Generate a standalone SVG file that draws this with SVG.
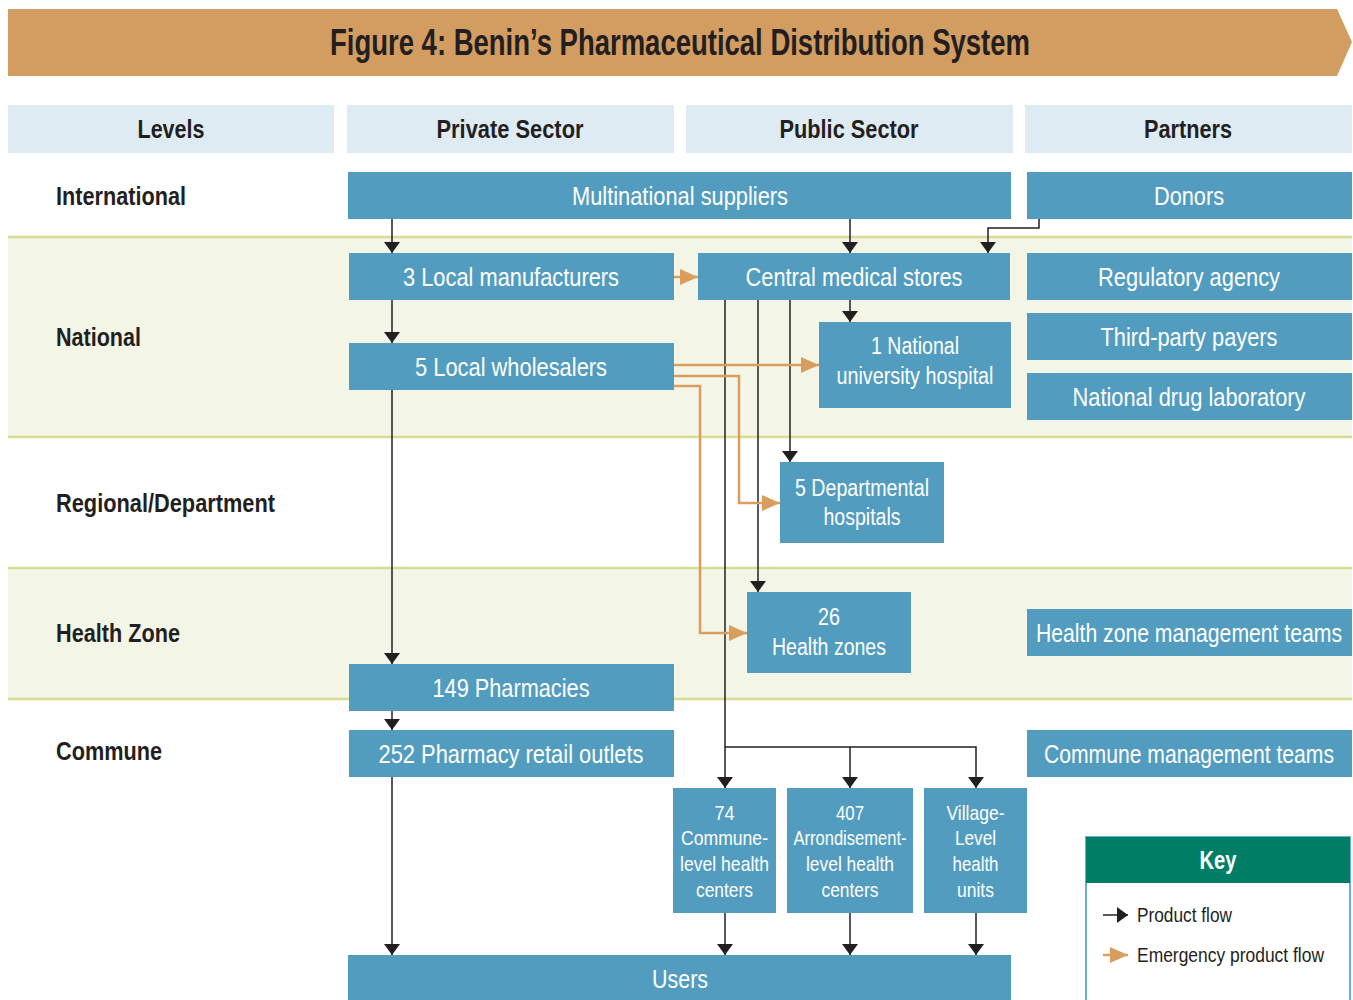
<svg xmlns="http://www.w3.org/2000/svg" width="1353" height="1000" viewBox="0 0 1353 1000">
<style>
text{font-family:"Liberation Sans",Arial,sans-serif;}
.t{font-size:37px;font-weight:bold;fill:#231f20;text-anchor:middle;}
.h{font-size:25px;font-weight:bold;fill:#231f20;text-anchor:middle;}
.lv{font-size:25px;font-weight:bold;fill:#231f20;}
.n{fill:#529dbf;}
.nt{font-size:26px;fill:#fff;text-anchor:middle;}
.ns{font-size:23px;fill:#fff;text-anchor:middle;}
.nb{font-size:21px;fill:#fff;text-anchor:middle;}
.hd{fill:#deebf3;}
.band{fill:#f3f6e6;}
.bl{stroke:#d6de93;stroke-width:2.5;}
.pf{fill:none;stroke:#231f20;stroke-width:1.5;}
.ef{fill:none;stroke:#d99e5e;stroke-width:2.5;}
.k{font-size:21px;fill:#231f20;}
</style>
<defs>
<marker id="ab" markerUnits="userSpaceOnUse" markerWidth="11" markerHeight="16" viewBox="0 0 11 16" refX="11" refY="8" orient="auto">
<path d="M0,0 L11,8 L0,16 z" fill="#231f20"/>
</marker>
<marker id="ao" markerUnits="userSpaceOnUse" markerWidth="18" markerHeight="16" viewBox="0 0 18 16" refX="18" refY="8" orient="auto">
<path d="M0,0 L18,8 L0,16 z" fill="#d99e5e"/>
</marker>
</defs>
<rect width="1353" height="1000" fill="#fff"/>
<g id="title">
<path d="M8,9 L1337,9 L1352,42 L1337,76 L8,76 z" fill="#d39c60"/>
<text class="t" x="680" y="55" textLength="700" lengthAdjust="spacingAndGlyphs">Figure 4: Benin’s Pharmaceutical Distribution System</text>
</g>
<g id="headers">
<rect class="hd" x="8" y="105" width="326" height="48"/>
<rect class="hd" x="347" y="105" width="327" height="48"/>
<rect class="hd" x="686" y="105" width="327" height="48"/>
<rect class="hd" x="1025" y="105" width="327" height="48"/>
<text class="h" x="171" y="138" textLength="67" lengthAdjust="spacingAndGlyphs">Levels</text>
<text class="h" x="510" y="138" textLength="147" lengthAdjust="spacingAndGlyphs">Private Sector</text>
<text class="h" x="849" y="138" textLength="139" lengthAdjust="spacingAndGlyphs">Public Sector</text>
<text class="h" x="1188" y="138" textLength="88" lengthAdjust="spacingAndGlyphs">Partners</text>
</g>
<g id="bands">
<rect class="band" x="8" y="237" width="1344" height="200"/>
<rect class="band" x="8" y="568" width="1344" height="131"/>
<line class="bl" x1="8" y1="237" x2="1352" y2="237"/>
<line class="bl" x1="8" y1="437" x2="1352" y2="437"/>
<line class="bl" x1="8" y1="568" x2="1352" y2="568"/>
<line class="bl" x1="8" y1="699" x2="1352" y2="699"/>
</g>
<g id="levels">
<text class="lv" x="56" y="205" textLength="130" lengthAdjust="spacingAndGlyphs">International</text>
<text class="lv" x="56" y="346" textLength="85" lengthAdjust="spacingAndGlyphs">National</text>
<text class="lv" x="56" y="512" textLength="219" lengthAdjust="spacingAndGlyphs">Regional/Department</text>
<text class="lv" x="56" y="642" textLength="124" lengthAdjust="spacingAndGlyphs">Health Zone</text>
<text class="lv" x="56" y="760" textLength="106" lengthAdjust="spacingAndGlyphs">Commune</text>
</g>
<g id="connectors">
<path class="pf" d="M392,219 V253" marker-end="url(#ab)"/>
<path class="pf" d="M850,219 V253" marker-end="url(#ab)"/>
<path class="pf" d="M1039,219 V228 H988 V253" marker-end="url(#ab)"/>
<path class="pf" d="M392,300 V343" marker-end="url(#ab)"/>
<path class="pf" d="M850,300 V322" marker-end="url(#ab)"/>
<path class="pf" d="M790,300 V462" marker-end="url(#ab)"/>
<path class="pf" d="M758,300 V592" marker-end="url(#ab)"/>
<path class="pf" d="M725,300 V788" marker-end="url(#ab)"/>
<path class="pf" d="M725,747 H976 V788" marker-end="url(#ab)"/>
<path class="pf" d="M850,747 V788" marker-end="url(#ab)"/>
<path class="pf" d="M392,390 V664" marker-end="url(#ab)"/>
<path class="pf" d="M392,711 V730" marker-end="url(#ab)"/>
<path class="pf" d="M392,777 V955" marker-end="url(#ab)"/>
<path class="pf" d="M725,913 V955" marker-end="url(#ab)"/>
<path class="pf" d="M850,913 V955" marker-end="url(#ab)"/>
<path class="pf" d="M976,913 V955" marker-end="url(#ab)"/>
<path class="ef" d="M674,277 H698" marker-end="url(#ao)"/>
<path class="ef" d="M674,365 H819" marker-end="url(#ao)"/>
<path class="ef" d="M674,376 H739 V503 H780" marker-end="url(#ao)"/>
<path class="ef" d="M674,386 H700 V633 H747" marker-end="url(#ao)"/>
</g>
<g id="multinational">
<rect class="n" x="348" y="172" width="663" height="47"/>
<text class="nt" x="680" y="205" textLength="216" lengthAdjust="spacingAndGlyphs">Multinational suppliers</text>
</g>
<g id="donors">
<rect class="n" x="1027" y="172" width="325" height="47"/>
<text class="nt" x="1189" y="205" textLength="70" lengthAdjust="spacingAndGlyphs">Donors</text>
</g>
<g id="manufacturers">
<rect class="n" x="349" y="253" width="325" height="47"/>
<text class="nt" x="511" y="286" textLength="216" lengthAdjust="spacingAndGlyphs">3 Local manufacturers</text>
</g>
<g id="cms">
<rect class="n" x="698" y="253" width="312" height="47"/>
<text class="nt" x="854" y="286" textLength="217" lengthAdjust="spacingAndGlyphs">Central medical stores</text>
</g>
<g id="regulatory">
<rect class="n" x="1027" y="253" width="325" height="47"/>
<text class="nt" x="1189" y="286" textLength="182" lengthAdjust="spacingAndGlyphs">Regulatory agency</text>
</g>
<g id="thirdparty">
<rect class="n" x="1027" y="313" width="325" height="47"/>
<text class="nt" x="1189" y="346" textLength="177" lengthAdjust="spacingAndGlyphs">Third-party payers</text>
</g>
<g id="drulab">
<rect class="n" x="1027" y="373" width="325" height="47"/>
<text class="nt" x="1189" y="406" textLength="233" lengthAdjust="spacingAndGlyphs">National drug laboratory</text>
</g>
<g id="wholesalers">
<rect class="n" x="349" y="343" width="325" height="47"/>
<text class="nt" x="511" y="376" textLength="192" lengthAdjust="spacingAndGlyphs">5 Local wholesalers</text>
</g>
<g id="nuh">
<rect class="n" x="819" y="322" width="192" height="86"/>
<text class="ns" x="915" y="354" textLength="88" lengthAdjust="spacingAndGlyphs">1 National</text>
<text class="ns" x="915" y="384" textLength="157" lengthAdjust="spacingAndGlyphs">university hospital</text>
</g>
<g id="departmental">
<rect class="n" x="780" y="462" width="164" height="81"/>
<text class="ns" x="862" y="496" textLength="134" lengthAdjust="spacingAndGlyphs">5 Departmental</text>
<text class="ns" x="862" y="525" textLength="77" lengthAdjust="spacingAndGlyphs">hospitals</text>
</g>
<g id="healthzones">
<rect class="n" x="747" y="592" width="164" height="81"/>
<text class="ns" x="829" y="625" textLength="22" lengthAdjust="spacingAndGlyphs">26</text>
<text class="ns" x="829" y="655" textLength="114" lengthAdjust="spacingAndGlyphs">Health zones</text>
</g>
<g id="hzteams">
<rect class="n" x="1027" y="609" width="325" height="47"/>
<text class="nt" x="1189" y="642" textLength="306" lengthAdjust="spacingAndGlyphs">Health zone management teams</text>
</g>
<g id="pharmacies">
<rect class="n" x="349" y="664" width="325" height="47"/>
<text class="nt" x="511" y="697" textLength="157" lengthAdjust="spacingAndGlyphs">149 Pharmacies</text>
</g>
<g id="outlets">
<rect class="n" x="349" y="730" width="325" height="47"/>
<text class="nt" x="511" y="763" textLength="265" lengthAdjust="spacingAndGlyphs">252 Pharmacy retail outlets</text>
</g>
<g id="communeteams">
<rect class="n" x="1027" y="730" width="325" height="47"/>
<text class="nt" x="1189" y="763" textLength="290" lengthAdjust="spacingAndGlyphs">Commune management teams</text>
</g>
<g id="communecenters">
<rect class="n" x="673" y="788" width="103" height="125"/>
<text class="nb" x="724.5" y="820" textLength="20" lengthAdjust="spacingAndGlyphs">74</text>
<text class="nb" x="724.5" y="845" textLength="87" lengthAdjust="spacingAndGlyphs">Commune-</text>
<text class="nb" x="724.5" y="871" textLength="89" lengthAdjust="spacingAndGlyphs">level health</text>
<text class="nb" x="724.5" y="897" textLength="57" lengthAdjust="spacingAndGlyphs">centers</text>
</g>
<g id="arrcenters">
<rect class="n" x="787" y="788" width="126" height="125"/>
<text class="nb" x="850" y="820" textLength="28" lengthAdjust="spacingAndGlyphs">407</text>
<text class="nb" x="850" y="845" textLength="113" lengthAdjust="spacingAndGlyphs">Arrondisement-</text>
<text class="nb" x="850" y="871" textLength="88" lengthAdjust="spacingAndGlyphs">level health</text>
<text class="nb" x="850" y="897" textLength="57" lengthAdjust="spacingAndGlyphs">centers</text>
</g>
<g id="villageunits">
<rect class="n" x="924" y="788" width="103" height="125"/>
<text class="nb" x="975.5" y="820" textLength="58" lengthAdjust="spacingAndGlyphs">Village-</text>
<text class="nb" x="975.5" y="845" textLength="41" lengthAdjust="spacingAndGlyphs">Level</text>
<text class="nb" x="975.5" y="871" textLength="46" lengthAdjust="spacingAndGlyphs">health</text>
<text class="nb" x="975.5" y="897" textLength="37" lengthAdjust="spacingAndGlyphs">units</text>
</g>
<g id="users">
<rect class="n" x="348" y="955" width="663" height="45"/>
<text class="nt" x="680" y="988" textLength="56" lengthAdjust="spacingAndGlyphs">Users</text>
</g>
<g id="key">
<rect x="1086" y="837" width="264" height="170" fill="#fff" stroke="#6aaed3" stroke-width="2"/>
<rect x="1086" y="837" width="264" height="46" fill="#017f66"/>
<text x="1218" y="869" font-size="25" font-weight="bold" fill="#fff" text-anchor="middle" textLength="37" lengthAdjust="spacingAndGlyphs">Key</text>
<path class="pf" d="M1103,915 H1128" marker-end="url(#ab)"/>
<text class="k" x="1137" y="922" textLength="95" lengthAdjust="spacingAndGlyphs">Product flow</text>
<path class="ef" d="M1103,955 H1128" marker-end="url(#ao)"/>
<text class="k" x="1137" y="962" textLength="187" lengthAdjust="spacingAndGlyphs">Emergency product flow</text>
</g>
</svg>
